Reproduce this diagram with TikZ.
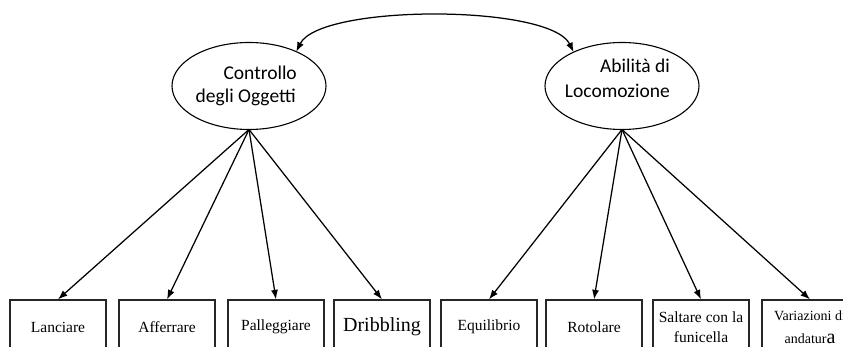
\documentclass[tikz,border=0pt]{standalone}
\usepackage{fontspec}
\setmainfont{Liberation Serif}
\newfontfamily\calib{Carlito}
\usetikzlibrary{shapes.geometric,arrows.meta}

\tikzset{
  factor/.style={draw=black, line width=1.1pt, ellipse, inner sep=0pt, outer sep=0pt,
                 minimum width=154pt, minimum height=87pt},
  factorlabel/.style={font=\calib\fontsize{19.5}{24}\selectfont, inner sep=0pt, anchor=base east},
  itembox/.style={draw=black!85, line width=1.2pt, rectangle, inner sep=1pt,
                  minimum width=96pt, minimum height=54pt, align=center,
                  font=\fontsize{15.5}{20}\selectfont},
  loading/.style={line width=1.25pt, -{Latex[length=9.5pt,width=7pt]}},
  covar/.style={line width=1.25pt, {Latex[length=9.5pt,width=7pt]}-{Latex[length=9.5pt,width=7pt]}}
}

\begin{document}
\begin{tikzpicture}[x=1pt,y=-1pt]
  \useasboundingbox (0,0) rectangle (843,347);
  \clip (0,0) rectangle (843,347);
  \fill[white] (0,0) rectangle (843,347);

  % latent factors
  \node[factor] (L) at (249,86) {};
  \node[factor] (R) at (622,86) {};
  \node[factorlabel] (Lt1) at (297,80) {Controllo};
  \node[factorlabel] (Lt2) at (296,103) {degli Oggetti};
  \node[factorlabel] (Rt1) at (670,73) {Abilità di};
  \node[factorlabel] (Rt2) at (670,98) {Locomozione};

  % observed items
  \node[itembox] (b1) at (58,327)  {Lanciare};
  \node[itembox] (b2) at (167,327) {Afferrare};
  \node[itembox] (b3) at (276,327) {Palleggiare};
  \node[itembox, font=\fontsize{20}{24}\selectfont] (b4) at (382,327) {Dribbling};
  \node[itembox] (b5) at (489,327) {Equilibrio};
  \node[itembox] (b6) at (594,327) {Rotolare};
  \node[itembox] (b7) at (701,327) {Saltare con la\\funicella};
  \node[itembox, font=\fontsize{14}{23}\selectfont] (b8) at (810,327)
       {Variazioni di\\andatur{\fontsize{20}{23}\selectfont a}};

  % correlation between factors
  \draw[covar] (L.36) .. controls (320,4) and (550,4) .. (R.145);

  % factor loadings
  \foreach \b in {b1,b2,b3,b4}
    \draw[loading] (L.south) -- (\b.north);
  \foreach \b in {b5,b6,b7,b8}
    \draw[loading] (R.south) -- (\b.north);
\end{tikzpicture}
\end{document}
